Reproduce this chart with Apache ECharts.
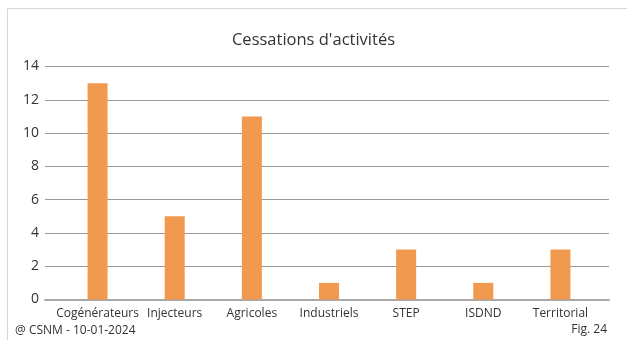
<!DOCTYPE html>
<html>
<head>
<meta charset="utf-8">
<script src="https://cdn.jsdelivr.net/npm/echarts@6/dist/echarts.min.js"></script>
<style>
  html, body { margin: 0; padding: 0; background: #fff; }
  #chart { width: 627px; height: 340px; }
</style>
</head>
<body>
<div id="chart"></div>
<script>
const categories = ["Cogénérateurs", "Injecteurs", "Agricoles", "Industriels", "STEP", "ISDND", "Territorial"];
const values = [13, 5, 11, 1, 3, 1, 3];
const yTicks = [0, 2, 4, 6, 8, 10, 12, 14];

const font = "'Open Sans', sans-serif";
const chart = echarts.init(document.getElementById("chart"));

chart.setOption({
  animation: false,
  backgroundColor: "#fff",
  title: {
    text: "Cessations d'activités",
    left: "center",
    top: 27,
    textStyle: { fontFamily: font, fontSize: 16.5, fontWeight: "normal", color: "#333" },
  },
  graphic: [
    {
      type: "rect",
      shape: { x: 7.5, y: 8.5, width: 640, height: 360 },
      style: { fill: "none", stroke: "#d6d6d6", lineWidth: 1 },
    },
    {
      type: "text",
      left: 15,
      top: 325,
      style: { text: "@ CSNM - 10-01-2024", fontFamily: font, fontSize: 12, fill: "#333" },
    },
    {
      type: "text",
      right: 20,
      top: 324,
      style: { text: "Fig. 24", fontFamily: font, fontSize: 12, fill: "#333" },
    },
  ],
  grid: [
    // frame grid: y labels, gridlines and base line
    { left: 45, right: 18, top: 66.5, bottom: 40.5, containLabel: false },
    // bar grid: narrower band
    { left: 59, right: 28, top: 66.5, bottom: 40.5, containLabel: false },
  ],
  xAxis: [
    {
      gridIndex: 0,
      type: "value",
      min: 0,
      max: 1,
      axisLine: { show: true, lineStyle: { color: "#a8a8a8", width: 2 } },
      axisTick: { show: false },
      axisLabel: { show: false },
      splitLine: { show: false },
    },
    {
      gridIndex: 1,
      type: "category",
      data: categories,
      axisLine: { show: false },
      axisTick: { show: false },
      axisLabel: { interval: 0, margin: 8, fontFamily: font, fontSize: 12, color: "#333" },
    },
  ],
  yAxis: [
    {
      gridIndex: 0,
      type: "value",
      min: yTicks[0],
      max: yTicks[yTicks.length - 1],
      interval: 2,
      axisLine: { show: false },
      axisTick: { show: false },
      axisLabel: { margin: 6, fontFamily: font, fontSize: 14, color: "#333" },
      splitLine: { lineStyle: { color: "#9a9a9a", width: 1 } },
    },
    {
      gridIndex: 1,
      type: "value",
      min: yTicks[0],
      max: yTicks[yTicks.length - 1],
      interval: 2,
      axisLine: { show: false },
      axisTick: { show: false },
      axisLabel: { show: false },
      splitLine: { show: false },
    },
  ],
  series: [
    {
      type: "bar",
      xAxisIndex: 1,
      yAxisIndex: 1,
      data: values,
      barWidth: 20,
      itemStyle: { color: "#F0994F" },
    },
  ],
});
</script>
</body>
</html>
